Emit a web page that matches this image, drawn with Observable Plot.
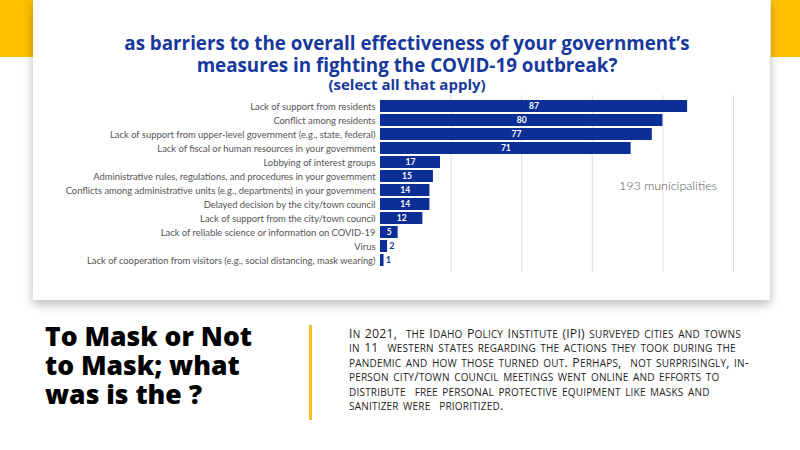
<!DOCTYPE html>
<html>
<head>
<meta charset="utf-8">
<script src="https://cdn.jsdelivr.net/npm/d3@7"></script>
<script src="https://cdn.jsdelivr.net/npm/@observablehq/plot@0.6"></script>
<style>
  html, body { margin: 0; padding: 0; background: #ffffff; }
  body { width: 800px; height: 450px; position: relative; overflow: hidden; font-family: "Open Sans", sans-serif; }
  .yel { position: absolute; background: #FFC000; }
  #card { position: absolute; left: 33px; top: 0; width: 737px; height: 300px; background: #fff;
          box-shadow: 0 4px 10px rgba(0,0,0,0.28); }
  .ttl { position: absolute; left: 0; width: 748px; text-align: center; color: #17389c;
         font-family: "Open Sans", sans-serif; font-weight: 700; white-space: nowrap; line-height: 1; }
  #chart { position: absolute; left: 0; top: 90px; }
  #note { position: absolute; left: 586px; top: 178px; font-family: Lato, sans-serif; font-size: 12.5px;
          color: #555; font-weight: 300; white-space: nowrap; }
  #bigtitle { position: absolute; left: 45px; top: 322px; font-family: "Open Sans", sans-serif; font-weight: 800;
              font-size: 26.5px; line-height: 29px; color: #000; white-space: nowrap; }
  #vline { position: absolute; left: 309px; top: 325px; width: 3px; height: 95px; background: #F2C029; }
  #body { position: absolute; left: 349px; top: 326.5px; font-family: "Open Sans", sans-serif; font-size: 12.3px;
          line-height: 14.6px; color: #1e1e1e; letter-spacing: 0.2px; word-spacing: 1px; }
  #body div { white-space: nowrap; }
  #body .sc { font-size: 10px; }
</style>
</head>
<body>
<div class="yel" style="left:0;top:0;width:34px;height:57px;"></div>
<div class="yel" style="left:771px;top:0;width:29px;height:57px;"></div>
<div id="card">
  <div class="ttl" style="top:34px;font-size:18.8px;">as barriers to the overall effectiveness of your government’s</div>
  <div class="ttl" style="top:55.5px;font-size:18.8px;">measures in fighting the COVID-19 outbreak?</div>
  <div class="ttl" style="top:76.5px;font-size:15px;">(select all that apply)</div>
  <div id="chart"></div>
  <div id="note">193 municipalities</div>
</div>
<div id="bigtitle">To Mask or Not<br>to Mask; what<br>was is the ?</div>
<div id="vline"></div>
<div id="body"></div>
<script>
const categories = [
  "Lack of support from residents",
  "Conflict among residents",
  "Lack of support from upper-level government (e.g., state, federal)",
  "Lack of fiscal or human resources in your government",
  "Lobbying of interest groups",
  "Administrative rules, regulations, and procedures in your government",
  "Conflicts among administrative units (e.g., departments) in your government",
  "Delayed decision by the city/town council",
  "Lack of support from the city/town council",
  "Lack of reliable science or information on COVID-19",
  "Virus",
  "Lack of cooperation from visitors (e.g., social distancing, mask wearing)"
];
const counts = [87, 80, 77, 71, 17, 15, 14, 14, 12, 5, 2, 1];
const gridTicks = [20, 40, 60, 80, 100];

const bodyLines = [
  "In 2021,\u00a0 the Idaho Policy Institute (IPI) surveyed cities and towns",
  "in 11\u00a0 western states regarding the actions they took during the",
  "pandemic and how those turned out. Perhaps,\u00a0 not surprisingly, in-",
  "person city/town council meetings went online and efforts to",
  "distribute\u00a0 free personal protective equipment like masks and",
  "sanitizer were\u00a0 prioritized."
];

// small caps rendering: lowercase runs become smaller uppercase
const bodyEl = document.getElementById("body");
for (const line of bodyLines) {
  const div = document.createElement("div");
  const runs = line.match(/[a-z]+|[^a-z]+/g);
  for (const r of runs) {
    if (/^[a-z]/.test(r)) {
      const s = document.createElement("span");
      s.className = "sc";
      s.textContent = r.toUpperCase();
      div.appendChild(s);
    } else {
      div.appendChild(document.createTextNode(r));
    }
  }
  bodyEl.appendChild(div);
}

const data = categories.map((c, i) => ({category: c, count: counts[i]}));
const barColor = "#0b2f97";

const chart = Plot.plot({
  width: 737,
  height: 186,
  marginLeft: 347,
  marginRight: 37,
  marginTop: 5,
  marginBottom: 4,
  x: {domain: [0, 100], axis: null},
  y: {domain: categories, padding: 0.13, label: null, tickSize: 0, tickPadding: 5},
  style: {fontFamily: "Lato, sans-serif", fontSize: "9.4px", color: "#555555", background: "transparent"},
  marks: [
    Plot.gridX(gridTicks, {stroke: "#dddddd", strokeOpacity: 1}),
    Plot.barX(data, {x: "count", y: "category", fill: barColor}),
    Plot.text(data.filter(d => d.count >= 5), {
      x: d => d.count / 2, y: "category", text: d => String(d.count),
      fill: "white", fontWeight: "bold", fontSize: 8.5
    }),
    Plot.text(data.filter(d => d.count < 5), {
      x: "count", y: "category", text: d => String(d.count), dx: 2,
      textAnchor: "start", fill: barColor, fontWeight: "bold", fontSize: 8.5
    })
  ]
});
document.getElementById("chart").appendChild(chart);
</script>
</body>
</html>
